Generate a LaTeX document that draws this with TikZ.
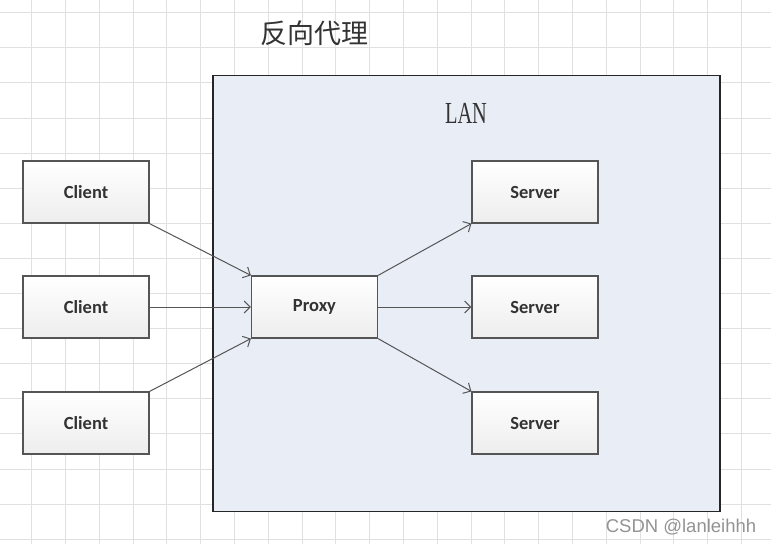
\documentclass[tikz,border=0pt]{standalone}
\usepackage{fontspec}
\setmainfont{Carlito}
\newfontfamily\cjkfont{Noto Sans CJK SC}
\newfontfamily\lanfont{Liberation Serif}
\newfontfamily\markfont{Liberation Sans}
\usetikzlibrary{arrows.meta}
\definecolor{gridgray}{HTML}{E0E0E0}
\definecolor{edgegray}{HTML}{555555}
\definecolor{lanblue}{HTML}{E9EDF5}
\definecolor{textgray}{HTML}{333333}

\begin{document}
\begin{tikzpicture}[x=1pt, y=-1pt, >={Straight Barb[length=6pt,width=12pt]},
        machine/.style={draw=edgegray, line width=1.2pt, top color=white, bottom color=gray!14,
            minimum width=126pt, minimum height=62pt, inner sep=0pt,
            font=\bfseries\fontsize{18.5}{20}\selectfont, text=textgray},
        link/.style={->, draw=edgegray, line width=1pt}]
        \useasboundingbox (0,0) rectangle (771,544);
        \fill[white] (0,0) rectangle (771,544);
        % grid
        \foreach \k in {0,...,22}
            \draw[gridgray, line width=1pt] ({31.7+33.8*\k},0) -- ++(0,544);
        \foreach \k in {0,...,15}
            \draw[gridgray, line width=1pt] (0,{12.7+35.1*\k}) -- ++(771,0);

        \node (title) at (314,33) {\cjkfont\fontsize{27}{30}\selectfont\color{textgray}反向代理};
        \node[draw=black!85, line width=1.4pt, fill=lanblue, minimum width=507pt, minimum height=436pt,
            inner sep=0pt] (lan) at (466.5,293.5) {};
        \node (lanlabel) at (466,113) {\lanfont\fontsize{20.4}{22}\selectfont\color{textgray}\scalebox{1}[1.5]{LAN}};

        \node[machine] (cl1) at (86,192) {Client};
        \node[machine] (cl2) at (86,307) {Client};
        \node[machine] (cl3) at (86,423) {Client};
        \node[machine] (px) at (314.5,307) {Proxy};
        \node[machine] (sv1) at (535,192) {Server};
        \node[machine] (sv2) at (535,307) {Server};
        \node[machine] (sv3) at (535,423) {Server};

        \node[text=gray!85] (mark) at (681,527) {\markfont\fontsize{18.5}{20}\selectfont CSDN @lanleihhh};

        \draw[link] (cl1.south east) -- (px.north west);
        \draw[link] (cl2.east) -- (px.west);
        \draw[link] (cl3.north east) -- (px.south west);

        \draw[link] (px.north east) -- (sv1.south west);
        \draw[link] (px.east) -- (sv2.west);
        \draw[link] (px.south east) -- (sv3.north west);
    \end{tikzpicture}
\end{document}
